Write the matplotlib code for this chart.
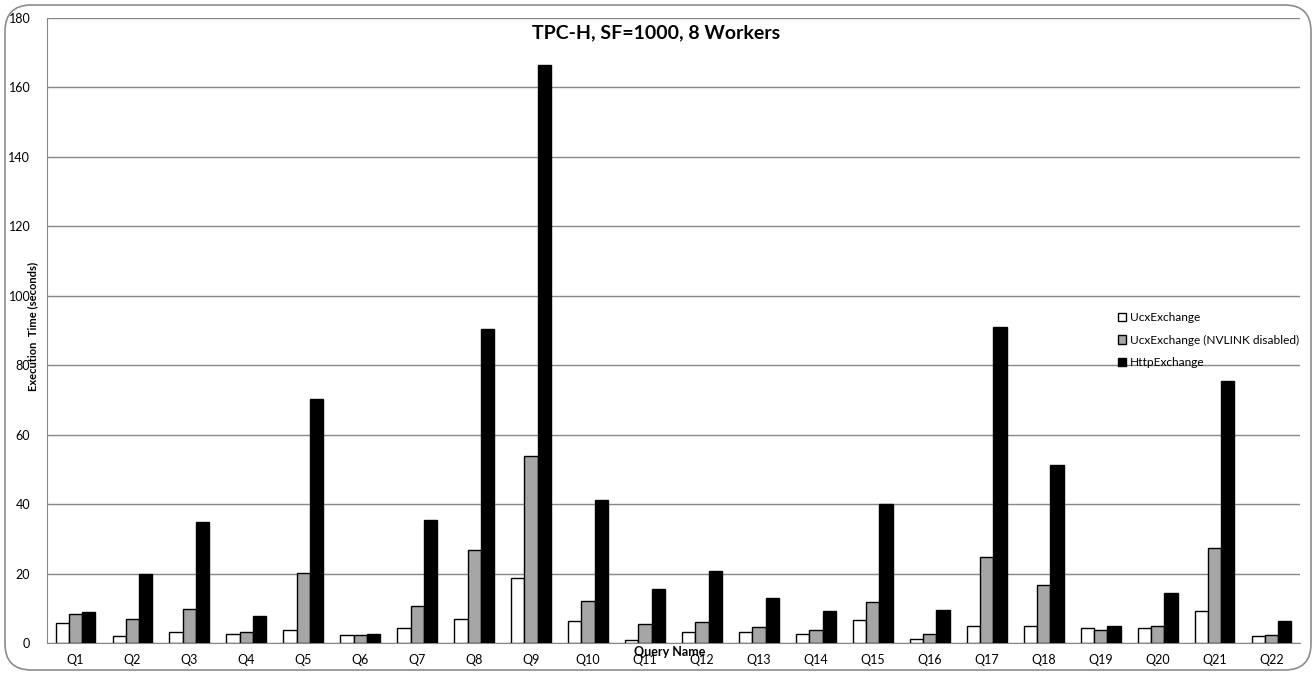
import matplotlib
matplotlib.use("Agg")
import matplotlib.pyplot as plt
import numpy as np
from matplotlib.patches import Patch, FancyBboxPatch

plt.rcParams['font.family'] = ['Lato', 'DejaVu Sans']

queries = [f"Q{i}" for i in range(1, 23)]
ucx = [5.7, 1.9, 3.2, 2.7, 3.8, 2.2, 4.2, 6.9, 18.6, 6.2, 0.9, 3.1,
       3.1, 2.7, 6.5, 1.2, 5.0, 5.0, 4.2, 4.2, 9.2, 1.9]
ucx_nvl_off = [8.4, 6.9, 9.9, 3.1, 20.3, 2.2, 10.8, 26.8, 54.0, 12.2, 5.4, 6.1,
               4.6, 3.8, 11.8, 2.6, 24.8, 16.8, 3.8, 5.0, 27.4, 2.3]
http = [8.8, 20.0, 34.8, 7.7, 70.4, 2.7, 35.4, 90.5, 166.6, 41.2, 15.6, 20.6,
        13.0, 9.2, 40.1, 9.6, 91.0, 51.4, 5.0, 14.5, 75.5, 6.2]
series_labels = ["UcxExchange", "UcxExchange (NVLINK disabled)", "HttpExchange"]
series_colors = ["#ffffff", "#a6a6a6", "#000000"]
yticks = [0, 20, 40, 60, 80, 100, 120, 140, 160, 180]

fig = plt.figure(figsize=(13.15, 6.75), dpi=100)
fig.patch.set_facecolor("white")

# outer rounded border
border = FancyBboxPatch((5/1315, 5/675), 1306/1315, 665/675,
                        boxstyle="round,pad=0,rounding_size=0.02",
                        transform=fig.transFigure, facecolor="none",
                        edgecolor="#8c8c8c", linewidth=1.2, mutation_aspect=1315/675)
fig.patches.append(border)

ax = fig.add_axes([47/1315, 32/675, 1253/1315, 625/675])
x = np.arange(len(queries))
w = 0.233
for i, (vals, col) in enumerate(zip([ucx, ucx_nvl_off, http], series_colors)):
    ax.bar(x + (i - 1) * w, vals, width=w, color=col, edgecolor="black",
           linewidth=1.0, zorder=3)

ax.set_xlim(-0.5, len(queries) - 0.5)
ax.set_ylim(0, 180)
ax.set_yticks(yticks)
ax.set_xticks(x)
ax.set_xticklabels(queries, fontsize=9)
ax.tick_params(axis='y', labelsize=9, length=0, pad=12)
ax.tick_params(axis='x', length=0, pad=8)
ax.yaxis.grid(True, color="#888888", linewidth=1.0, zorder=0)
ax.set_axisbelow(True)
for s in ["top", "right"]:
    ax.spines[s].set_visible(False)
ax.spines["left"].set_color("#888888")
ax.spines["bottom"].set_color("#888888")

ax.set_title("TPC-H, SF=1000, 8 Workers", fontsize=14, fontweight="bold",
             y=0.955, x=0.486)
ax.text(0.497, -0.0145, "Query Name", transform=ax.transAxes, ha="center",
        va="center", fontsize=9, fontweight="bold")
fig.text(33/1315, 1 - 326/675, "Execution  Time (seconds)", rotation=90,
         ha="center", va="center", fontsize=8, fontweight="bold")

handles = [Patch(facecolor=c, edgecolor="black", linewidth=1.0) for c in series_colors]
ax.legend(handles, series_labels, loc="upper left", bbox_to_anchor=(0.851, 0.537),
          frameon=False, fontsize=8.6, handlelength=0.7, handleheight=0.7,
          handletextpad=0.3, labelspacing=0.95, borderaxespad=0)

fig.savefig("out.png", dpi=100)
